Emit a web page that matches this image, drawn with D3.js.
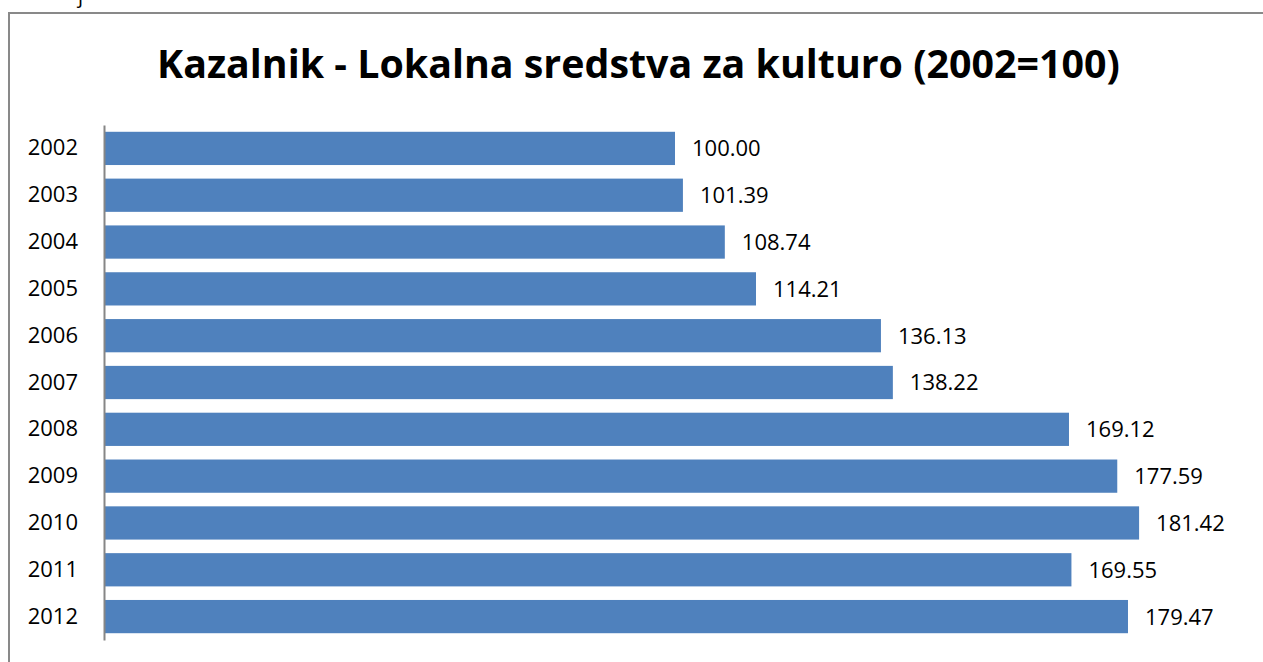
<!DOCTYPE html>
<html>
<head>
<meta charset="utf-8">
<script src="https://cdn.jsdelivr.net/npm/d3@7"></script>
<style>
  body { margin: 0; background: #fff; }
  svg { display: block; }
</style>
</head>
<body>
<div id="chart"></div>
<script>
// data
var years = ["2002", "2003", "2004", "2005", "2006", "2007", "2008", "2009", "2010", "2011", "2012"];
var values = [100.00, 101.39, 108.74, 114.21, 136.13, 138.22, 169.12, 177.59, 181.42, 169.55, 179.47];
var title = "Kazalnik - Lokalna sredstva za kulturo (2002=100)";

var W = 1263, H = 662;
var svg = d3.select("#chart").append("svg")
    .attr("width", W)
    .attr("height", H);

// chart frame, runs off the right and bottom of the picture
svg.append("rect")
    .attr("x", 9).attr("y", 13)
    .attr("width", W + 20).attr("height", H + 20)
    .attr("fill", "none")
    .attr("stroke", "#898989")
    .attr("stroke-width", 2);

// bit of clipped text above the frame
svg.append("text")
    .attr("x", 78).attr("y", 3)
    .attr("font-family", "Open Sans")
    .attr("font-size", 20)
    .attr("fill", "#000")
    .text("j");

// title, sized to fit the width seen in the reference
var t = svg.append("text")
    .attr("x", 157).attr("y", 78)
    .attr("font-family", "Open Sans")
    .attr("font-weight", "bold")
    .attr("font-size", 40)
    .attr("fill", "#000")
    .text(title);
var tw = t.node().getComputedTextLength();
t.attr("font-size", 40 * 963 / tw);

var x = d3.scaleLinear().domain([0, 200]).range([105, 1245]);
var y = d3.scaleBand().domain(years).range([125, 640]).paddingInner(0.29).paddingOuter(0.145);

svg.selectAll("rect.bar")
    .data(values)
    .enter().append("rect")
    .attr("class", "bar")
    .attr("x", x(0))
    .attr("y", function(d, i) { return y(years[i]); })
    .attr("width", function(d) { return x(d) - x(0); })
    .attr("height", y.bandwidth())
    .attr("fill", "#4F81BD");

// value labels
svg.selectAll("text.val")
    .data(values)
    .enter().append("text")
    .attr("class", "val")
    .attr("x", function(d) { return x(d) + 17; })
    .attr("y", function(d, i) { return y(years[i]) + y.bandwidth() / 2; })
    .attr("dy", "0.36em")
    .attr("font-family", "Open Sans")
    .attr("font-size", 22)
    .attr("fill", "#000")
    .text(function(d) { return d.toFixed(2); });

// category axis
var axis = svg.append("g")
    .attr("transform", "translate(104,0)")
    .call(d3.axisLeft(y).tickSize(0).tickPadding(26));
axis.select(".domain")
    .attr("stroke", "#868686")
    .attr("stroke-width", 2);
axis.selectAll(".tick text")
    .attr("font-family", "Open Sans")
    .attr("font-size", 22)
    .attr("fill", "#000");
</script>
</body>
</html>
